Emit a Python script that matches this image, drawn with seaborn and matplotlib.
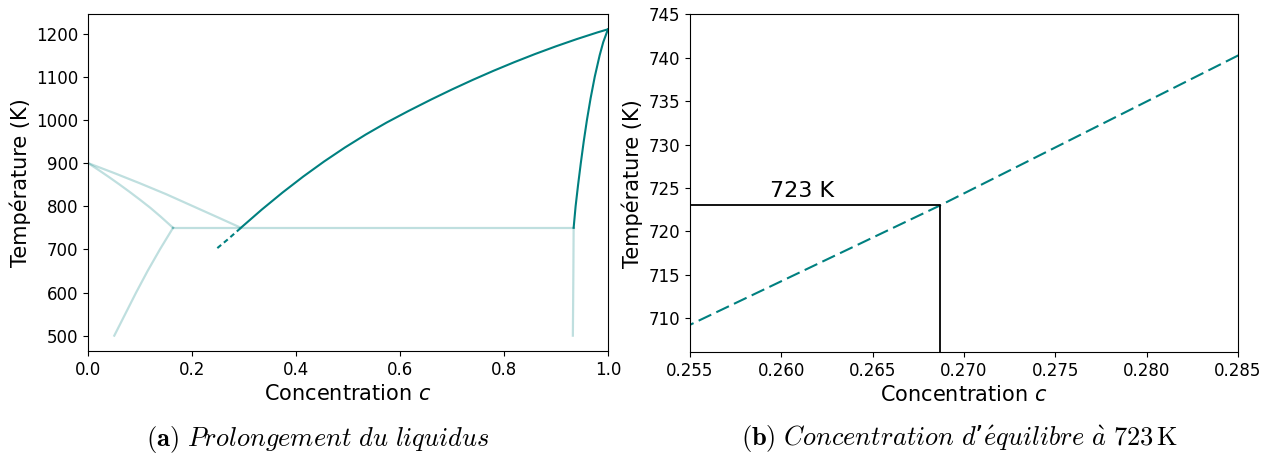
import numpy as np
import matplotlib
matplotlib.use("Agg")
import matplotlib.pyplot as plt
import seaborn as sns

# diagramme de phase (concentration c, temperature T en K)
liq_gauche_c = [0.0, 0.05, 0.10, 0.15, 0.20, 0.25, 0.294]
liq_gauche_T = [900, 877, 853, 828, 801, 774, 750]

sol_gauche_c = [0.0, 0.02, 0.04, 0.06, 0.08, 0.10, 0.12, 0.14, 0.1635]
sol_gauche_T = [900, 884.2, 867.8, 850.8, 833.2, 815, 796.1, 775.5, 750]

solvus_gauche_c = [0.1635, 0.1383, 0.1146, 0.0925, 0.0715, 0.061, 0.0505]
solvus_gauche_T = [750, 700, 650, 600, 550, 525, 500]

eutectique_c = [0.1635, 0.934]
eutectique_T = [750, 750]

solvus_droit_c = [0.934, 0.9335, 0.933, 0.9325]
solvus_droit_T = [750, 650, 570, 500]

liq_droit_c = [0.294, 0.334, 0.374, 0.414, 0.454, 0.494, 0.534, 0.574, 0.616,
               0.66, 0.70, 0.74, 0.78, 0.82, 0.86, 0.90, 0.94, 0.98, 1.0]
liq_droit_T = [750, 792, 831.6, 868.8, 903.6, 936, 966, 993.7, 1020.5,
               1047.3, 1070.6, 1092.8, 1113.9, 1133.9, 1152.8, 1170.6, 1187.3,
               1202.9, 1210]

sol_droit_c = [0.934, 0.9378, 0.9426, 0.9478, 0.9534, 0.9596, 0.9666, 0.9746,
               0.9841, 0.9909, 1.0]
sol_droit_T = [750, 800, 850, 900, 950, 1000, 1050, 1100, 1150, 1180, 1210]

# prolongement du liquidus sous l'eutectique
prol_c = [0.2487, 0.2687, 0.294]
prol_T = [702.9, 723.0, 749.8]

# lecture a 723 K
lecture_c = [0.255, 0.2687, 0.2687]
lecture_T = [723, 723, 700]

teal = "#008080"

fig = plt.figure(figsize=(12.74, 4.57), dpi=100)
ax1 = fig.add_axes([0.0691, 0.232, 0.4081, 0.7374])
ax2 = fig.add_axes([0.5416, 0.2298, 0.4301, 0.7385])

clair = dict(color=teal, alpha=0.25, lw=1.6, sort=False, estimator=None)
for c, T in [(liq_gauche_c, liq_gauche_T), (sol_gauche_c, sol_gauche_T),
             (solvus_gauche_c, solvus_gauche_T), (eutectique_c, eutectique_T),
             (solvus_droit_c, solvus_droit_T)]:
    sns.lineplot(x=c, y=T, ax=ax1, **clair)

sns.lineplot(x=liq_droit_c, y=liq_droit_T, ax=ax1, color=teal, lw=1.5,
             sort=False, estimator=None)
sns.lineplot(x=sol_droit_c, y=sol_droit_T, ax=ax1, color=teal, lw=1.5,
             sort=False, estimator=None)
sns.lineplot(x=prol_c, y=prol_T, ax=ax1, color=teal, lw=1.5,
             sort=False, estimator=None, linestyle=(0, (2.4, 1.7)))

ax1.set_xlim(0, 1)
ax1.set_ylim(464.5, 1245.5)
ax1.set_xticks(np.arange(0, 1.01, 0.2))
ax1.set_yticks(np.arange(500, 1201, 100))
ax1.set_xlabel("Concentration $c$", fontsize=15)
ax1.set_ylabel("Température (K)", fontsize=15)
ax1.tick_params(labelsize=12)

# zoom
sns.lineplot(x=prol_c, y=prol_T, ax=ax2, color=teal, lw=1.5,
             sort=False, estimator=None, linestyle=(0, (6.7, 2.7)))
sns.lineplot(x=lecture_c, y=lecture_T, ax=ax2, color="black", lw=1.3,
             sort=False, estimator=None)
ax2.text(0.2594, 724.0, "723 K", fontsize=16)

ax2.set_xlim(0.255, 0.285)
ax2.set_ylim(706.1, 745)
ax2.set_xticks(np.arange(0.255, 0.2851, 0.005))
ax2.set_xticklabels([f"{v:.3f}" for v in np.arange(0.255, 0.2851, 0.005)])
ax2.set_yticks(np.arange(710, 746, 5))
ax2.set_xlabel("Concentration $c$", fontsize=15)
ax2.set_ylabel("Température (K)", fontsize=15)
ax2.tick_params(labelsize=12)

fig.text(0.2497, 0.024,
         r"$\mathbf{(a)}\ \mathit{Prolongement\ du\ liquidus}$",
         ha="center", va="baseline", fontsize=19, math_fontfamily="cm")
fig.text(0.7535, 0.024,
         r"$\mathbf{(b)}\ \mathit{Concentration\ d}$’"
         r"$\mathit{\acute{e}quilibre\ \grave{a}}\ \mathrm{723\,K}$",
         ha="center", va="baseline", fontsize=19, math_fontfamily="cm")

fig.savefig("out.png", dpi=100)
